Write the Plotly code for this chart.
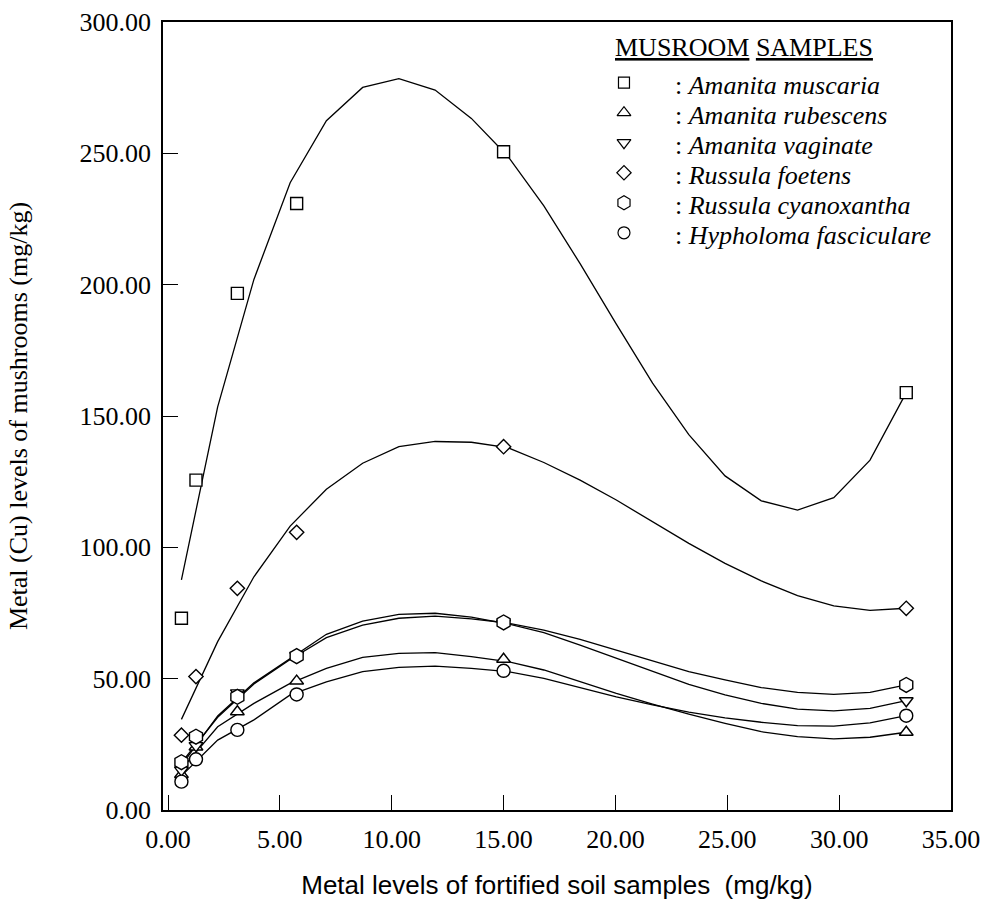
import plotly.graph_objects as go

# ---------------- data ----------------
sample_x = [0.6, 1.25, 3.1, 5.75, 15.0, 33.0]

species = ["Amanita muscaria", "Amanita rubescens", "Amanita vaginate",
           "Russula foetens", "Russula cyanoxantha", "Hypholoma fasciculare"]
symbols = ["square", "triangle-up", "triangle-down", "diamond", "hexagon", "circle"]

muscaria = [73.0, 125.6, 196.7, 230.9, 250.6, 158.9]
rubescens = [13.5, 24.0, 37.4, 49.1, 57.4, 29.6]
vaginate = [15.2, 24.5, 44.6, 58.8, 71.2, 41.6]
foetens = [28.5, 50.8, 84.4, 105.7, 138.3, 76.8]
cyanoxantha = [18.2, 27.9, 43.1, 58.6, 71.4, 47.6]
fasciculare = [10.8, 19.3, 30.5, 44.0, 53.0, 35.9]

# fitted curves
fit_x = [0.6, 2.22, 3.84, 5.46, 7.08, 8.7, 10.32, 11.94, 13.56, 15.18, 16.8,
         18.42, 20.04, 21.66, 23.28, 24.9, 26.52, 28.14, 29.76, 31.38, 33.0]
fit_muscaria = [87.6, 153.5, 202.0, 238.8, 262.4, 275.1, 278.4, 274.1, 263.3, 249.0, 230.0,
                208.0, 185.0, 162.5, 142.9, 127.2, 117.7, 114.2, 118.9, 133.2, 158.9]
fit_foetens = [34.5, 64.1, 88.8, 108.1, 122.1, 132.0, 138.3, 140.3, 140.0, 138.0, 132.3,
               125.6, 118.0, 109.7, 101.5, 93.9, 87.2, 81.6, 77.7, 76.0, 76.8]
fit_vaginate = [17.0, 35.8, 48.4, 57.8, 66.9, 71.9, 74.5, 74.9, 73.4, 70.9, 67.5,
                62.8, 57.7, 52.7, 47.8, 43.8, 40.6, 38.4, 37.7, 38.7, 41.6]
fit_cyanoxantha = [18.0, 35.3, 48.0, 57.3, 65.6, 70.4, 73.0, 73.8, 72.8, 71.2, 68.5,
                   65.0, 60.9, 56.8, 52.7, 49.5, 46.6, 44.8, 44.0, 44.8, 47.6]
fit_rubescens = [15.5, 31.7, 40.6, 48.2, 53.9, 58.1, 59.6, 59.9, 58.4, 56.5, 53.3,
                 48.8, 44.4, 40.3, 36.5, 33.0, 29.8, 27.9, 27.1, 27.7, 29.6]
fit_fasciculare = [13.0, 26.6, 34.3, 43.8, 48.8, 52.7, 54.3, 54.8, 53.9, 52.7, 50.1,
                   46.6, 43.1, 40.0, 37.3, 35.1, 33.4, 32.1, 31.9, 33.2, 35.9]

sample_vals = [muscaria, rubescens, vaginate, foetens, cyanoxantha, fasciculare]
fit_vals = [fit_muscaria, fit_rubescens, fit_vaginate, fit_foetens, fit_cyanoxantha, fit_fasciculare]
marker_sizes = [12, 12, 12, 11, 15, 13]

x_ticks = [0, 5, 10, 15, 20, 25, 30, 35]
y_ticks = [0, 50, 100, 150, 200, 250, 300]

SERIF = "Liberation Serif, Times New Roman, serif"
SANS = "Liberation Sans, Arial, sans-serif"

fig = go.Figure()

# fitted lines
for name, fv in zip(species, fit_vals):
    fig.add_trace(go.Scatter(x=fit_x, y=fv, mode="lines", name=name + " fit",
                             line=dict(color="black", width=1.3), showlegend=False,
                             hoverinfo="skip"))

# sample markers
for name, sym, vals, ms in zip(species, symbols, sample_vals, marker_sizes):
    fig.add_trace(go.Scatter(x=sample_x, y=vals, mode="markers", name=name,
                             marker=dict(symbol=sym, size=ms, color="white",
                                         line=dict(color="black", width=1.4)),
                             showlegend=False))

# custom legend (key symbols on an overlay axis spanning the plot area)
key_x0 = 0.585
key_y0 = 0.923
key_step = 0.0381
leg_sizes = [11, 12, 12, 11, 14, 12]
for i, (name, sym, ls) in enumerate(zip(species, symbols, leg_sizes)):
    fig.add_trace(go.Scatter(x=[key_x0], y=[key_y0 - i * key_step], mode="markers",
                             xaxis="x2", yaxis="y2", showlegend=False, hoverinfo="skip",
                             marker=dict(symbol=sym, size=ls, color="white",
                                         line=dict(color="black", width=1.2))))
    fig.add_annotation(x=0.647, y=key_y0 - 0.004 - i * key_step, xref="paper", yref="paper",
                       text=": <i>" + name + "</i>", showarrow=False,
                       xanchor="left", yanchor="middle",
                       font=dict(family=SERIF, size=26, color="black"))

fig.add_annotation(x=0.571, y=0.968, xref="paper", yref="paper",
                   text="<u>MUSROOM</u> <u>SAMPLES</u>", showarrow=False,
                   xanchor="left", yanchor="middle",
                   font=dict(family=SERIF, size=26, color="black"))

axis_common = dict(showgrid=False, zeroline=False, showline=True, linecolor="black",
                   linewidth=1.5, mirror=True, ticks="inside", ticklen=15, tickwidth=1,
                   tickcolor="black", tickformat=".2f", automargin=False,
                   tickfont=dict(family=SERIF, size=26, color="black"))

fig.update_layout(
    width=983, height=900,
    margin=dict(l=163, r=32, t=22, b=90),
    paper_bgcolor="white", plot_bgcolor="white",
    showlegend=False,
    xaxis=dict(range=[-0.224, 35.0], tickvals=x_ticks, ticklabelstandoff=5,
               title=dict(text="Metal levels of fortified soil samples  (mg/kg)",
                          font=dict(family=SANS, size=26, color="black"), standoff=31),
               **axis_common),
    yaxis=dict(range=[0, 300], tickvals=y_ticks, ticklabelstandoff=5,
               title=dict(text="Metal (Cu) levels of mushrooms (mg/kg)",
                          font=dict(family=SERIF, size=26, color="black"), standoff=44),
               **axis_common),
    xaxis2=dict(range=[0, 1], overlaying="x", visible=False, fixedrange=True),
    yaxis2=dict(range=[0, 1], overlaying="y", visible=False, fixedrange=True),
)

# remove the default page margin so the 983x900 figure fills the window exactly
fig.write_html("out.html", config={"displayModeBar": False},
               post_script="document.body.style.margin='0';document.body.style.overflow='hidden';")
